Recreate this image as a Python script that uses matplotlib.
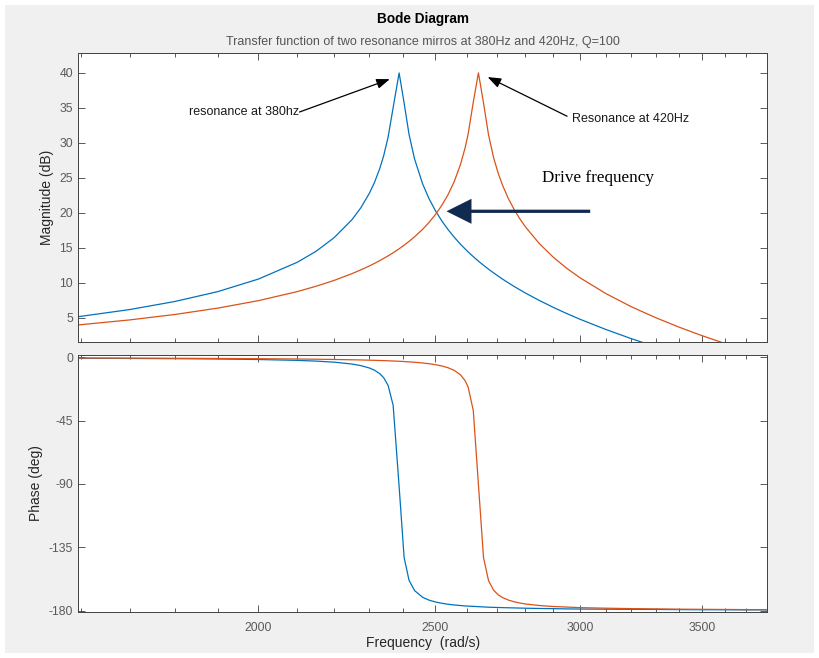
import matplotlib
matplotlib.use("Agg")
import matplotlib.pyplot as plt
from matplotlib.patches import Rectangle, FancyArrowPatch
from matplotlib.ticker import FixedLocator, FixedFormatter, NullFormatter

plt.rcParams["font.family"] = ["Liberation Sans", "DejaVu Sans"]
plt.rcParams["axes.unicode_minus"] = False

# Frequency samples (rad/s), denser around the two peaks
freq = [1590, 1700, 1800, 1900, 2000, 2100, 2150, 2200, 2250, 2275, 2300, 2315, 2330,
        2342, 2355, 2370, 2388, 2403, 2418, 2435, 2460, 2480, 2500, 2520, 2540, 2560,
        2580, 2595, 2605, 2622, 2639, 2656, 2673, 2690, 2705, 2720, 2740, 2760, 2780,
        2800, 2850, 2900, 2950, 3000, 3100, 3200, 3300, 3400, 3500, 3600, 3700, 3800]

# 380 Hz mirror (blue)
mag_380 = [5.09, 6.14, 7.30, 8.71, 10.51, 12.90, 14.46, 16.42, 18.99, 20.67, 22.77, 24.34, 26.26,
           28.16, 30.80, 35.03, 39.99, 35.71, 31.20, 27.67, 24.09, 21.98, 20.27, 18.83, 17.58, 16.48,
           15.49, 14.82, 14.39, 13.71, 13.07, 12.48, 11.92, 11.39, 10.95, 10.51, 9.98, 9.46, 8.98,
           8.51, 7.44, 6.46, 5.57, 4.75, 3.28, 1.98, 0.82, -0.24, -1.21, -2.10, -2.93, -3.71]
phase_380 = [-0.69, -0.83, -1.00, -1.24, -1.61, -2.22, -2.73, -3.49, -4.81, -5.91, -7.62, -9.20, -11.57,
             -14.54, -20.0, -34.07, -91.9, -142.1, -158.4, -165.7, -170.5, -172.5, -173.8, -174.7, -175.4, -175.9,
             -176.3, -176.6, -176.7, -176.9, -177.1, -177.3, -177.5, -177.6, -177.7, -177.8, -177.9, -178.0, -178.1,
             -178.2, -178.4, -178.5, -178.7, -178.8, -178.9, -179.0, -179.1, -179.2, -179.3, -179.3, -179.4, -179.4]

# 420 Hz mirror (orange)
mag_420 = [3.92, 4.66, 5.44, 6.35, 7.42, 8.71, 9.47, 10.31, 11.28, 11.81, 12.38, 12.75, 13.14,
           13.46, 13.82, 14.27, 14.84, 15.35, 15.89, 16.56, 17.63, 18.62, 19.75, 21.05, 22.59, 24.48,
           26.89, 29.26, 31.25, 35.82, 40.00, 35.70, 31.10, 27.88, 25.72, 23.98, 22.07, 20.50, 19.15,
           17.98, 15.56, 13.64, 12.04, 10.68, 8.41, 6.55, 4.98, 3.61, 2.39, 1.30, 0.30, -0.62]
phase_420 = [-0.54, -0.63, -0.73, -0.86, -1.02, -1.24, -1.39, -1.57, -1.79, -1.92, -2.08, -2.18, -2.29,
             -2.39, -2.51, -2.66, -2.86, -3.05, -3.27, -3.55, -4.07, -4.60, -5.28, -6.19, -7.45, -9.35,
             -12.48, -16.59, -21.13, -37.86, -90.2, -142.2, -158.7, -165.4, -168.6, -170.6, -172.4, -173.6, -174.5,
             -175.2, -176.3, -177.0, -177.4, -177.8, -178.2, -178.5, -178.7, -178.9, -179.0, -179.1, -179.2, -179.2]

x_major = [2000, 2500, 3000, 3500]
x_labels = ["2000", "2500", "3000", "3500"]
mag_ticks = [5, 10, 15, 20, 25, 30, 35, 40]
phase_ticks = [0, -45, -90, -135, -180]

BLUE = "#0072BD"
ORANGE = "#D95319"
PANEL = "#f0f0f0"
AXIS_COLOR = "#404040"
TICK_LABEL = "#5a5a5a"
NAVY = "#112b50"

W, H = 820, 658
fig = plt.figure(figsize=(W / 100, H / 100), dpi=100, facecolor="white")
fig.add_artist(Rectangle((5 / W, 1 - 653 / H), 809 / W, 648 / H, transform=fig.transFigure,
                         facecolor=PANEL, edgecolor="none", zorder=-10))

ax_mag = fig.add_axes([78.5 / W, 1 - 342.3 / H, 688.5 / W, 289 / H])
ax_ph = fig.add_axes([78.5 / W, 1 - 612 / H, 688.5 / W, 257 / H])

minor = [f for f in range(1600, 3800, 100) if f not in x_major]
for ax in (ax_mag, ax_ph):
    ax.set_facecolor("white")
    ax.set_xscale("log")
    ax.set_xlim(1594, 3797)
    ax.xaxis.set_major_locator(FixedLocator(x_major))
    ax.xaxis.set_major_formatter(FixedFormatter(x_labels))
    ax.xaxis.set_minor_locator(FixedLocator(minor))
    ax.xaxis.set_minor_formatter(NullFormatter())
    ax.tick_params(which="both", direction="in", top=True, right=True,
                   color=AXIS_COLOR, width=0.6, labelcolor=TICK_LABEL, labelsize=8.8)
    ax.tick_params(which="major", length=5)
    ax.tick_params(which="minor", length=3)
    ax.tick_params(axis="x", pad=7)
    ax.tick_params(axis="y", pad=4)
    for s in ax.spines.values():
        s.set_color(AXIS_COLOR)
        s.set_linewidth(0.7)

ax_mag.plot(freq, mag_380, color=BLUE, linewidth=0.9)
ax_mag.plot(freq, mag_420, color=ORANGE, linewidth=0.9)
ax_mag.set_ylim(1.46, 42.8)
ax_mag.set_yticks(mag_ticks)
ax_mag.tick_params(labelbottom=False)
ax_mag.set_ylabel("Magnitude (dB)", fontsize=10, color="#262626")

ax_ph.plot(freq, phase_380, color=BLUE, linewidth=0.9)
ax_ph.plot(freq, phase_420, color=ORANGE, linewidth=0.9)
ax_ph.set_ylim(-180.9, 1.6)
ax_ph.set_yticks(phase_ticks)
ax_ph.set_ylabel("Phase (deg)", fontsize=10, color="#262626")
ax_ph.set_xlabel("Frequency  (rad/s)", fontsize=10, color="#262626", labelpad=2)

fig.text(422.7 / W, 1 - 19 / H, "Bode Diagram", ha="center", va="center",
         fontsize=9.8, fontweight="bold", color="black")
fig.text(422.7 / W, 1 - 42 / H,
         "Transfer function of two resonance mirros at 380Hz and 420Hz, Q=100",
         ha="center", va="center", fontsize=9, color="#555555")

# annotations on the magnitude panel
ax_mag.text(2104, 34.4, "resonance at 380hz", ha="right", va="center", fontsize=9, color="#1a1a1a")
ax_mag.annotate("", xy=(2360, 39.1), xytext=(2106, 34.4),
                arrowprops=dict(arrowstyle="-|>,head_length=0.8,head_width=0.3",
                                color="black", lw=0.9, shrinkA=0, shrinkB=0))
ax_mag.text(2970, 33.4, "Resonance at 420Hz", ha="left", va="center", fontsize=9, color="#1a1a1a")
ax_mag.annotate("", xy=(2670, 39.4), xytext=(2951, 33.8),
                arrowprops=dict(arrowstyle="-|>,head_length=0.8,head_width=0.3",
                                color="black", lw=0.9, shrinkA=0, shrinkB=0))
ax_mag.text(2859, 24.95, "Drive frequency", ha="left", va="center", fontsize=12.3,
            family=["Liberation Serif", "DejaVu Serif"], color="black")
drive = FancyArrowPatch((3049, 20.2), (2526, 20.2),
                        arrowstyle="simple,head_length=1.0,head_width=1.0,tail_width=0.13",
                        mutation_scale=18, color=NAVY, linewidth=0, zorder=5)
ax_mag.add_patch(drive)

fig.savefig("out.png", dpi=100, facecolor=fig.get_facecolor())
